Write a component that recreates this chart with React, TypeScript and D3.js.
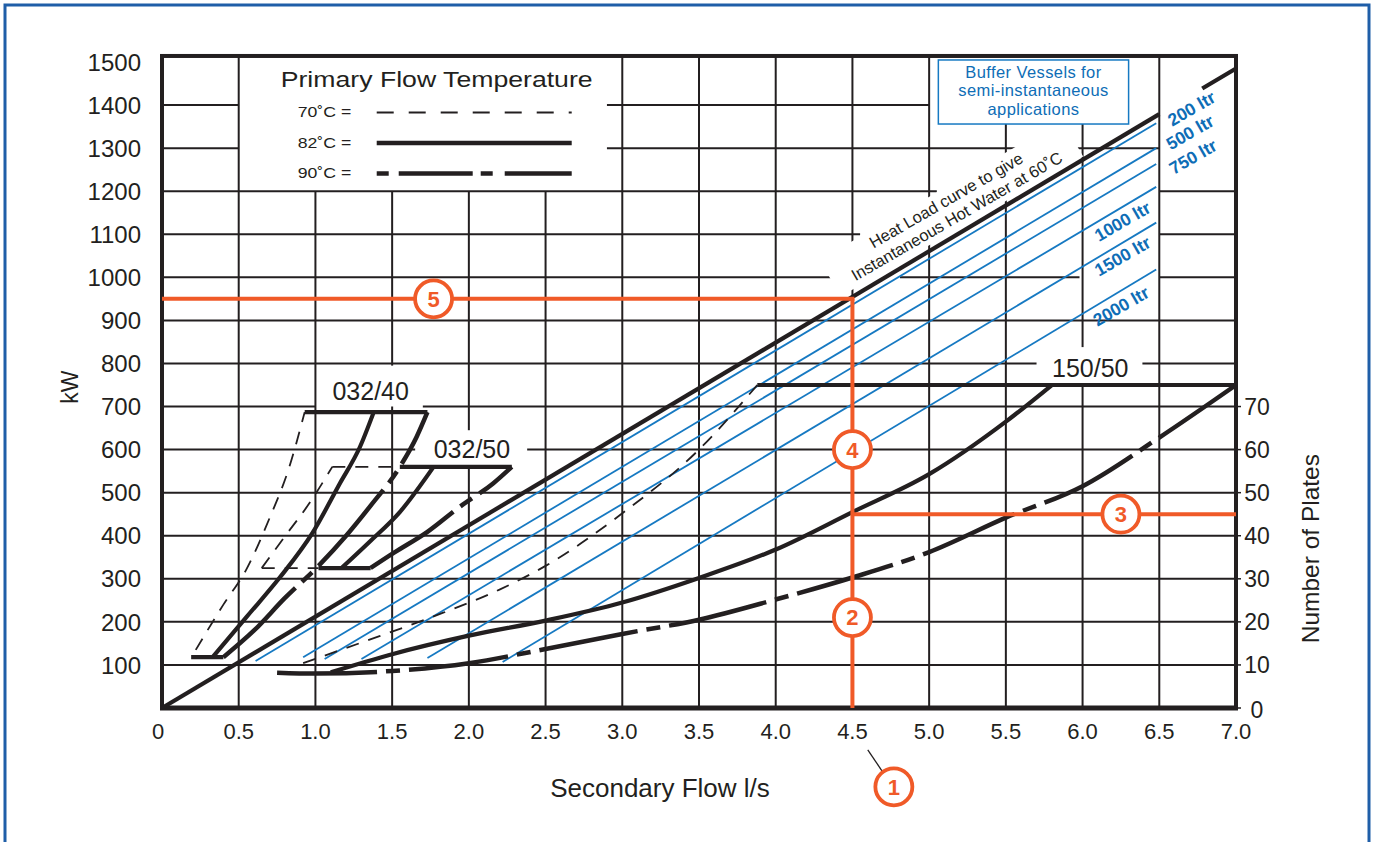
import React, { useEffect, useRef } from 'react';
import * as d3 from 'd3';

// axes
const flowTicks = [0, 0.5, 1.0, 1.5, 2.0, 2.5, 3.0, 3.5, 4.0, 4.5, 5.0, 5.5, 6.0, 6.5, 7.0];
const flowTickLabels = ['0', '0.5', '1.0', '1.5', '2.0', '2.5', '3.0', '3.5', '4.0', '4.5', '5.0', '5.5', '6.0', '6.5', '7.0'];
const kwTicks = [100, 200, 300, 400, 500, 600, 700, 800, 900, 1000, 1100, 1200, 1300, 1400, 1500];
const plateTicks = [0, 10, 20, 30, 40, 50, 60, 70];

// legend
const legendTitle = 'Primary Flow Temperature';
const legendTemps = ['70˚C =', '82˚C =', '90˚C ='];

// heat load curve (kW vs secondary flow)
const heatLoadFlow = [0, 7.0];
const heatLoadKw = [0, 1485];
const heatLoadBreak = [6.5, 6.78];
const heatLoadCaption = ['Heat Load curve to give', 'Instantaneous Hot Water at 60˚C'];
const heatLoadCaptionFlow = [5.11, 5.18];
const heatLoadCaptionKw = [1179, 1142];

// buffer vessels
const bufferTitle = ['Buffer Vessels for', 'semi-instantaneous', 'applications'];
const bufferLabels = ['200 ltr', '500 ltr', '750 ltr', '1000 ltr', '1500 ltr', '2000 ltr'];
const bufferStartFlow = [0.61, 0.92, 1.06, 1.30, 1.73, 2.22];
const bufferStartKw = [109, 118, 114, 114, 116, 107];
const bufferEndFlow = [6.48, 6.48, 6.48, 6.48, 6.48, 6.48];
const bufferEndKw = [1358, 1300, 1263, 1210, 1127, 1018];
const bufferLabelFlow = [6.71, 6.70, 6.72, 6.26, 6.26, 6.25];
const bufferLabelKw = [1392, 1337, 1280, 1130, 1049, 933];

// plate heat exchanger curves [flow l/s, kW]
const p032_40_t70 = [[0.22, 135], [0.40, 240], [0.55, 322], [0.70, 440], [0.83, 560], [0.93, 687]];
const p032_40_t82 = [[0.33, 118], [0.55, 211], [0.77, 304], [0.98, 406], [1.16, 522], [1.29, 606], [1.38, 687]];
const p032_40_t90 = [[0.40, 118], [0.60, 180], [0.80, 255], [1.02, 330], [1.20, 400], [1.36, 470], [1.55, 560], [1.66, 630], [1.73, 687]];
const p032_40_top = [[0.93, 687], [1.73, 687]];
const p032_40_foot = [[0.19, 118], [0.40, 118]];

const p032_50_t70 = [[0.65, 325], [0.80, 398], [0.95, 470], [1.11, 560]];
const p032_50_t82 = [[1.17, 325], [1.35, 385], [1.55, 455], [1.77, 560]];
const p032_50_t90 = [[1.36, 325], [1.51, 360], [1.73, 409], [1.94, 467], [2.16, 522], [2.28, 560]];
const p032_50_topDashed = [[1.11, 560], [1.50, 560]];
const p032_50_top = [[1.55, 560], [2.28, 560]];
const p032_50_footDashed = [[0.65, 325], [1.02, 325]];
const p032_50_foot = [[1.02, 325], [1.36, 325]];

const p150_50_t70 = [[0.92, 104], [1.30, 152], [1.75, 210], [2.20, 275], [2.50, 330], [3.00, 452], [3.50, 600], [3.88, 750]];
const p150_50_t82 = [[1.10, 83], [1.50, 125], [2.00, 168], [2.50, 203], [3.00, 245], [3.50, 302], [4.00, 368], [4.50, 455], [5.00, 543], [5.50, 665], [5.80, 750]];
const p150_50_t90 = [[0.75, 82], [1.00, 80], [1.50, 86], [2.00, 104], [2.50, 137], [3.00, 172], [3.50, 205], [4.00, 252], [4.50, 303], [5.00, 362], [5.50, 442], [6.00, 515], [6.50, 628], [7.00, 750]];
const p150_50_top = [[3.88, 750], [7.0, 750]];

const plateLabels = ['032/40', '032/50', '150/50'];
const plateLabelFlow = [1.36, 2.02, 6.05];
const plateLabelKw = [736, 600, 790];

// worked example
const readFlow = 4.5;
const readKw = 950;
const readPlatesKw = 450;
const markerText = ['1', '2', '3', '4', '5'];
const markerFlow = [4.77, 4.5, 6.25, 4.5, 1.77];
const markerKw = [-183, 210, 450, 600, 950];
const leaderFlow = [4.6, 4.7];
const leaderKw = [-97, -150];

// grid breaks behind labels: [kW, flowFrom, flowTo] and [flow, kWFrom, kWTo]
const hBreaks = [
  [1400, 0.5, 2.9], [1300, 0.5, 2.9], [1400, 5.0, 7.0], [1300, 6.5, 7.0],
  [1200, 5.05, 6.5], [1100, 4.55, 6.5], [1000, 4.39, 4.81], [1000, 5.98, 6.5],
  [800, 5.7, 6.39], [700, 1.0, 1.7], [600, 1.65, 2.38],
];
const vBreaks = [
  [1.0, 1200, 1520], [1.5, 1200, 1520], [2.0, 1200, 1520], [2.5, 1200, 1520],
  [5.5, 1356, 1520], [6.0, 1356, 1520], [1.5, 700, 795], [2.0, 560, 645], [6.0, 752, 838],
];

export default function App() {
  const svgRef = useRef<SVGSVGElement>(null);

  useEffect(() => {
    if (!svgRef.current) return;
    const svg = d3.select(svgRef.current);
    svg.selectAll('*').remove();

    const font = "'Liberation Sans', Arial, Helvetica, sans-serif";
    const ink = '#231f20';
    const blue = '#1679c2';
    const blueText = '#0e6db6';
    const orange = '#f05a28';

    const x = d3.scaleLinear().domain([0, 7]).range([162, 1236]);
    const y = d3.scaleLinear().domain([0, 1500]).range([708, 62]);
    const yPlates = d3.scaleLinear().domain([0, 150]).range([708, 62]);
    const topKw = 1514;

    // page frame
    svg.append('rect')
      .attr('x', 5).attr('y', 5).attr('width', 1364).attr('height', 870)
      .attr('fill', 'white').attr('stroke', '#1f5ea8').attr('stroke-width', 3);

    // grid with breaks
    const split = (lo: number, hi: number, breaks: number[][]) => {
      const segs: number[][] = [];
      let start = lo;
      breaks.slice().sort((a, b) => a[0] - b[0]).forEach(([a, b]) => {
        if (a > start) segs.push([start, a]);
        start = Math.max(start, b);
      });
      if (start < hi) segs.push([start, hi]);
      return segs;
    };

    const grid = svg.append('g').attr('stroke', ink).attr('stroke-width', 2);
    kwTicks.filter(k => k < 1500).forEach(k => {
      const br = hBreaks.filter(b => b[0] === k).map(b => [b[1], b[2]]);
      split(0, 7, br).forEach(([a, b]) => {
        grid.append('line').attr('x1', x(a)).attr('x2', x(b)).attr('y1', y(k)).attr('y2', y(k));
      });
    });
    flowTicks.filter(f => f > 0 && f < 7).forEach(f => {
      const br = vBreaks.filter(b => b[0] === f).map(b => [b[1], b[2]]);
      split(0, topKw, br).forEach(([a, b]) => {
        grid.append('line').attr('x1', x(f)).attr('x2', x(f)).attr('y1', y(a)).attr('y2', y(b));
      });
    });

    // plot frame
    svg.append('rect')
      .attr('x', x(0)).attr('y', y(topKw))
      .attr('width', x(7) - x(0)).attr('height', y(0) - y(topKw))
      .attr('fill', 'none').attr('stroke', ink).attr('stroke-width', 4);
    svg.append('line')
      .attr('x1', x(0) - 2).attr('x2', x(7) + 2).attr('y1', y(0)).attr('y2', y(0))
      .attr('stroke', ink).attr('stroke-width', 5);

    // right axis ticks
    plateTicks.forEach(p => {
      svg.append('line')
        .attr('x1', x(7)).attr('x2', x(7) + 5).attr('y1', yPlates(p)).attr('y2', yPlates(p))
        .attr('stroke', ink).attr('stroke-width', 1.5);
    });

    // heat load caption background
    const angle = -30;
    const capCx = (x(heatLoadCaptionFlow[0]) + x(heatLoadCaptionFlow[1])) / 2;
    const capCy = (y(heatLoadCaptionKw[0]) + y(heatLoadCaptionKw[1])) / 2;
    svg.append('rect')
      .attr('transform', `translate(${capCx},${capCy}) rotate(${angle})`)
      .attr('x', -140).attr('y', -21).attr('width', 280).attr('height', 42)
      .attr('fill', 'white');

    // buffer vessel lines
    bufferLabels.forEach((_, i) => {
      svg.append('line')
        .attr('x1', x(bufferStartFlow[i])).attr('y1', y(bufferStartKw[i]))
        .attr('x2', x(bufferEndFlow[i])).attr('y2', y(bufferEndKw[i]))
        .attr('stroke', blue).attr('stroke-width', 1.8);
    });

    // heat load line, broken under the 200 ltr label
    const hl = d3.scaleLinear().domain(heatLoadFlow).range(heatLoadKw);
    [[heatLoadFlow[0], heatLoadBreak[0]], [heatLoadBreak[1], heatLoadFlow[1]]].forEach(([a, b]) => {
      svg.append('line')
        .attr('x1', x(a)).attr('y1', y(hl(a)))
        .attr('x2', x(b)).attr('y2', y(hl(b)))
        .attr('stroke', ink).attr('stroke-width', 4.2);
    });

    // plate curves
    const curve = d3.line<number[]>()
      .x(d => x(d[0]))
      .y(d => y(d[1]))
      .curve(d3.curveMonotoneX);

    const styleFor = (kind: string) => {
      if (kind === '70') return { w: 1.8, dash: '13,10' };
      if (kind === '90') return { w: 4.5, dash: '100,9,14,9' };
      return { w: 4.2, dash: null };
    };

    const drawn: Array<[number[][], string]> = [
      [p032_40_t70, '70'], [p032_40_t82, '82'], [p032_40_t90, '90'], [p032_40_top, '82'], [p032_40_foot, '82'],
      [p032_50_t70, '70'], [p032_50_t82, '82'], [p032_50_t90, '90'],
      [p032_50_topDashed, '70'], [p032_50_top, '82'], [p032_50_footDashed, '70'], [p032_50_foot, '82'],
      [p150_50_t70, '70'], [p150_50_t82, '82'], [p150_50_t90, '90'], [p150_50_top, '82'],
    ];
    drawn.forEach(([pts, kind]) => {
      const s = styleFor(kind);
      svg.append('path')
        .datum(pts)
        .attr('d', curve)
        .attr('fill', 'none')
        .attr('stroke', ink)
        .attr('stroke-width', s.w)
        .attr('stroke-dasharray', s.dash)
        .attr('stroke-linejoin', 'round');
    });

    // plate labels
    plateLabels.forEach((lab, i) => {
      svg.append('text')
        .attr('x', x(plateLabelFlow[i])).attr('y', y(plateLabelKw[i]))
        .attr('dy', '0.35em').attr('text-anchor', 'middle')
        .style('font-family', font).style('font-size', '25px').style('fill', ink)
        .text(lab);
    });

    // heat load caption
    heatLoadCaption.forEach((t, i) => {
      svg.append('text')
        .attr('transform', `translate(${x(heatLoadCaptionFlow[i])},${y(heatLoadCaptionKw[i])}) rotate(${angle})`)
        .attr('dy', '0.35em').attr('text-anchor', 'middle')
        .style('font-family', font).style('font-size', '16.5px').style('fill', ink)
        .text(t);
    });

    // buffer labels
    bufferLabels.forEach((lab, i) => {
      svg.append('text')
        .attr('transform', `translate(${x(bufferLabelFlow[i])},${y(bufferLabelKw[i])}) rotate(${angle})`)
        .attr('dy', '0.35em').attr('text-anchor', 'middle')
        .style('font-family', font).style('font-size', '17.5px').style('font-weight', 'bold')
        .style('fill', blueText)
        .text(lab);
    });

    // buffer box
    const bx0 = x(5.06), bx1 = x(6.30), by0 = y(topKw) + 4, by1 = y(1356);
    svg.append('rect')
      .attr('x', bx0).attr('y', by0).attr('width', bx1 - bx0).attr('height', by1 - by0)
      .attr('fill', 'white').attr('stroke', blue).attr('stroke-width', 1.5);
    bufferTitle.forEach((t, i) => {
      svg.append('text')
        .attr('x', (bx0 + bx1) / 2).attr('y', by0 + 18 + i * 18.5)
        .attr('text-anchor', 'middle')
        .style('font-family', font).style('font-size', '16.5px').style('fill', blueText)
        .style('letter-spacing', '0.4px')
        .text(t);
    });

    // legend
    const lx = x(0.5);
    svg.append('text')
      .attr('transform', `translate(${lx + 42},${y(1443)}) scale(1.24,1)`)
      .style('font-family', font).style('font-size', '21.5px').style('fill', ink)
      .text(legendTitle);
    legendTemps.forEach((t, i) => {
      const ly = y(1383) + i * 30.5;
      svg.append('text')
        .attr('transform', `translate(${lx + 59},${ly + 5}) scale(1.22,1)`)
        .style('font-family', font).style('font-size', '14.5px').style('fill', ink)
        .text(t);
      svg.append('line')
        .attr('x1', lx + 138).attr('x2', lx + 333).attr('y1', ly).attr('y2', ly)
        .attr('stroke', ink)
        .attr('stroke-width', i === 0 ? 2 : 4.5)
        .attr('stroke-dasharray', i === 0 ? '17,15' : i === 2 ? '12,10,74,8,12,12,70' : null);
    });

    // worked example guides
    const guides = svg.append('g').attr('stroke', orange).attr('stroke-width', 4);
    guides.append('line').attr('x1', x(readFlow)).attr('x2', x(readFlow)).attr('y1', y(0)).attr('y2', y(readKw));
    guides.append('line').attr('x1', x(0)).attr('x2', x(readFlow) + 2).attr('y1', y(readKw)).attr('y2', y(readKw));
    guides.append('line').attr('x1', x(readFlow)).attr('x2', x(7)).attr('y1', y(readPlatesKw)).attr('y2', y(readPlatesKw));

    svg.append('line')
      .attr('x1', x(leaderFlow[0])).attr('y1', y(leaderKw[0]))
      .attr('x2', x(leaderFlow[1])).attr('y2', y(leaderKw[1]))
      .attr('stroke', ink).attr('stroke-width', 1.3);

    markerText.forEach((m, i) => {
      const g = svg.append('g').attr('transform', `translate(${x(markerFlow[i])},${y(markerKw[i])})`);
      g.append('circle').attr('r', 18.5).attr('fill', 'white').attr('stroke', orange).attr('stroke-width', 3.8);
      g.append('text')
        .attr('text-anchor', 'middle').attr('dy', '0.36em')
        .style('font-family', font).style('font-size', '22px').style('font-weight', 'bold')
        .style('fill', orange)
        .text(m);
    });

    // tick labels
    kwTicks.forEach(k => {
      svg.append('text')
        .attr('x', 141).attr('y', y(k)).attr('dy', '0.36em').attr('text-anchor', 'end')
        .style('font-family', font).style('font-size', '24px').style('fill', ink)
        .text(String(k));
    });
    flowTicks.forEach((f, i) => {
      svg.append('text')
        .attr('x', x(f) - (i === 0 ? 4 : 0)).attr('y', 739).attr('text-anchor', 'middle')
        .style('font-family', font).style('font-size', '22px').style('fill', ink)
        .text(flowTickLabels[i]);
    });
    plateTicks.forEach(p => {
      svg.append('text')
        .attr('x', 1257).attr('y', yPlates(p) + (p === 0 ? 2 : 0)).attr('dy', '0.36em').attr('text-anchor', 'middle')
        .style('font-family', font).style('font-size', '23px').style('fill', ink)
        .text(String(p));
    });

    // axis titles
    svg.append('text')
      .attr('transform', `translate(70,${y(745)}) rotate(-90)`)
      .attr('text-anchor', 'middle').attr('dy', '0.35em')
      .style('font-family', font).style('font-size', '23px').style('fill', ink)
      .text('kW');
    svg.append('text')
      .attr('transform', `translate(1310,${yPlates(37)}) rotate(-90)`)
      .attr('text-anchor', 'middle').attr('dy', '0.35em')
      .style('font-family', font).style('font-size', '24.5px').style('fill', ink)
      .text('Number of Plates');
    svg.append('text')
      .attr('x', 660).attr('y', 797).attr('text-anchor', 'middle')
      .style('font-family', font).style('font-size', '26px').style('fill', ink)
      .text('Secondary Flow l/s');
  }, []);

  return (
    <svg
      ref={svgRef}
      width={1375}
      height={842}
      style={{ position: 'absolute', left: 0, top: 0, background: 'white' }}
    />
  );
}
